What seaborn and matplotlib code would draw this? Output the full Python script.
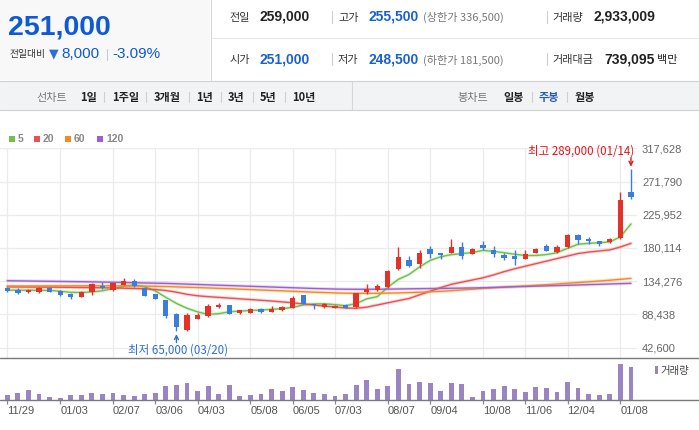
import numpy as np
import pandas as pd
import matplotlib
matplotlib.use('Agg')
import matplotlib.pyplot as plt
import seaborn as sns
from matplotlib.lines import Line2D
from matplotlib.patches import Rectangle

# 주봉 데이터 (2019/11/29 ~ 2021/01/14)
opens = [125000, 122500, 119500, 119500, 125500, 121000, 117000, 113000, 119500, 128000,
         122000, 129000, 134500, 125000, 116500, 108500, 89000, 67000, 82500, 86500,
         99000, 101500, 90500, 91000, 96000, 92000, 94500, 97500, 115000, 103500,
         99000, 98000, 101500, 98500, 119500, 122500, 126000, 151000, 163500, 157500,
         178500, 173000, 173500, 181500, 172000, 184000, 178000, 170000, 169000, 165500,
         173500, 183500, 175000, 182000, 197500, 192500, 190000, 189000, 194500, 258000]
highs = [126000, 124500, 123500, 126000, 126000, 122000, 118500, 120500, 131500, 133000,
         132500, 138500, 137000, 126500, 117000, 108500, 90000, 90000, 90000, 103500,
         104000, 102000, 94500, 97000, 97500, 100000, 99500, 114000, 115500, 103500,
         104000, 101000, 103500, 118500, 130500, 131000, 149500, 181000, 169000, 177000,
         182500, 173500, 192000, 189000, 179500, 189500, 183500, 173000, 177500, 177500,
         179500, 185000, 184500, 199000, 199500, 195000, 190000, 193500, 257500, 289000]
lows = [119500, 117000, 118000, 118500, 119500, 114500, 110000, 112500, 115500, 124000,
        121000, 128500, 126500, 113500, 109500, 84000, 65000, 66000, 82000, 85500,
        97500, 89000, 89500, 90500, 91000, 91500, 93000, 97500, 103500, 96500,
        97500, 97500, 97000, 97500, 116000, 120500, 124500, 150000, 153500, 153000,
        166500, 165000, 173000, 165000, 171500, 177000, 167500, 163000, 156500, 165000,
        173000, 175500, 173500, 180500, 185500, 185500, 183500, 187500, 192500, 247500]
closes = [120500, 118500, 122000, 125500, 120000, 115500, 113000, 119500, 131000, 125500,
          131500, 134500, 127500, 114000, 109500, 86500, 71500, 87500, 87500, 100000,
          102000, 89500, 94000, 96000, 92000, 96000, 98500, 111000, 103500, 101000,
          102500, 100500, 98000, 118000, 124000, 127500, 148500, 167500, 155500, 173000,
          171500, 170500, 181500, 169500, 178500, 180000, 171500, 166000, 164500, 172000,
          178500, 176500, 182000, 197500, 190500, 189500, 185500, 192500, 246500, 251000]
# 거래량 (천주)
volumes = [4500, 6300, 9000, 5400, 2700, 1800, 4500, 4500, 6300, 5400,
           6300, 4500, 3600, 5400, 6300, 12600, 13500, 15300, 8100, 12600,
           5400, 13500, 3600, 4500, 5400, 9900, 8100, 11700, 9000, 6300,
           5400, 3600, 5400, 13500, 18000, 9900, 12600, 27900, 14400, 16200,
           15300, 8100, 15300, 14400, 2700, 8100, 9900, 12600, 9900, 7200,
           11700, 10800, 7200, 16200, 10800, 5400, 4500, 5400, 32400, 29700]
# 이동평균선
ma5 = [122000, 122000, 121800, 121800, 121600, 120500, 119000, 118800, 119500, 121100,
       124000, 127500, 129000, 126600, 121000, 112000, 103700, 97000, 92000, 88600,
       89500, 92200, 93000, 94000, 94500, 95500, 96500, 98200, 101500, 103000,
       103200, 102000, 100500, 103500, 110000, 113000, 126000, 137000, 143500, 154000,
       163000, 168000, 171000, 172300, 174000, 176800, 175500, 173600, 171500, 169800,
       169800, 171000, 173600, 179700, 185300, 186500, 187500, 188500, 195500, 213300]
ma20 = [126500, 126400, 126300, 126200, 126100, 126000, 125800, 125600, 125400, 125200,
        125000, 124700, 124300, 123700, 122800, 121500, 119200, 116200, 114200, 113000,
        112000, 111000, 110000, 109000, 108000, 107000, 105800, 104500, 103000, 101500,
        100000, 98700, 97300, 97000, 98500, 101500, 104500, 107500, 110500, 115500,
        120500, 125500, 130000, 133000, 136000, 139000, 143000, 147500, 151500, 155000,
        158500, 162000, 165500, 169000, 172500, 174500, 176000, 177500, 181500, 186500]
ma60 = [127600, 127650, 127700, 127750, 127800, 127850, 127900, 127950, 128000, 128000,
        128000, 127900, 127700, 127500, 127300, 127000, 126500, 126000, 125500, 125000,
        124500, 124000, 123400, 122800, 122200, 121600, 121000, 120400, 119800, 119200,
        118700, 118200, 117800, 117600, 117600, 117700, 117900, 118200, 118600, 119100,
        119700, 120400, 121200, 122200, 123300, 124400, 125300, 126100, 126900, 127700,
        128600, 129500, 130500, 131500, 132500, 133500, 134600, 135700, 136900, 138200]
ma120 = [135000, 134800, 134600, 134400, 134200, 134000, 133800, 133600, 133400, 133100,
         132800, 132500, 132200, 131900, 131600, 131300, 130800, 130300, 129800, 129300,
         128800, 128300, 127800, 127300, 126800, 126300, 125800, 125300, 124800, 124300,
         123900, 123500, 123300, 123200, 123200, 123300, 123400, 123600, 123800, 124000,
         124200, 124400, 124600, 124800, 125000, 125300, 125700, 126200, 126700, 127100,
         127500, 127900, 128300, 128700, 129100, 129600, 130000, 130500, 130900, 131400]

tick_idx = [0, 5, 10, 14, 18, 23, 27, 31, 36, 40, 45, 49, 53, 58]
tick_labels = ['11/29', '01/03', '02/07', '03/06', '04/03', '05/08', '06/05',
               '07/03', '08/07', '09/04', '10/08', '11/06', '12/04', '01/08']
price_ticks = [42600, 88438, 134276, 180114, 225952, 271790, 317628]

RED = '#e4322b'
BLUE = '#3a7ddc'
VOL = '#9a84c4'
ma_colors = {'5': '#6cc24a', '20': '#ec5050', '60': '#f58a1f', '120': '#9d5fcf'}

W, H = 699, 430
def fx(px):
    return px / W
def fy(py):
    return 1 - py / H

sns.set_theme(style='white')
KR = ['Noto Sans CJK KR', 'DejaVu Sans']
NUM = ['Liberation Sans', 'DejaVu Sans']
plt.rcParams['font.family'] = KR

fig = plt.figure(figsize=(W / 100, H / 100), dpi=100)

def txt(x, y, s, size=8, color='#222', weight='normal', family=KR, ha='left'):
    # CJK 글꼴은 중심이 조금 위로 잡혀서 살짝 내림
    if family is KR:
        y += 1
    fig.text(fx(x), fy(y), s, fontsize=size, color=color, fontweight=weight,
             family=family, ha=ha, va='center')

def hline(x0, x1, y, color, lw=0.8):
    fig.add_artist(Line2D([fx(x0), fx(x1)], [fy(y), fy(y)], color=color, lw=lw))

def vline(x, y0, y1, color, lw=0.8):
    fig.add_artist(Line2D([fx(x), fx(x)], [fy(y0), fy(y1)], color=color, lw=lw))

# ---- 상단 시세 영역
fig.add_artist(Rectangle((0, fy(80)), fx(210), 80 / H, transform=fig.transFigure,
                         facecolor='#f8f8f9', edgecolor='none', zorder=0))
vline(210.5, 0, 80, '#d6d6d6')
hline(211, W, 37.5, '#e6e6e6')
hline(0, W, 80.5, '#d0d0d0')

txt(8, 27.5, '251,000', size=20.5, color='#0d5ad4', weight='bold', family=NUM)
txt(9, 53.5, '전일대비', size=7, color='#333')
txt(49, 54, '▼', size=9, color='#2f6fd0', family=['DejaVu Sans'])
txt(61, 54.5, '8,000', size=11, color='#0d5ad4', family=NUM)
vline(107, 49, 60, '#cccccc')
txt(112, 54.5, '-3.09%', size=11, color='#0d5ad4', family=NUM)

rows = [
    (16.5, [('전일', '259,000', '#222', None), ('고가', '255,500', '#1960d3', '(상한가 336,500)'),
            ('거래량', '2,933,009', '#222', None)]),
    (59, [('시가', '251,000', '#1960d3', None), ('저가', '248,500', '#1960d3', '(하한가 181,500)'),
          ('거래대금', '739,095', '#222', '백만')]),
]
label_x = [229, 338, 552]
value_x = [[259, 368, 593], [259, 368, 604]]
for r, (yy, items) in enumerate(rows):
    for k, (lab, val, col, extra) in enumerate(items):
        txt(label_x[k], yy, lab, size=8, color='#333')
        txt(value_x[r][k], yy, val, size=10, color=col, weight='bold', family=NUM)
        if extra == '백만':
            txt(657, yy, extra, size=8, color='#222')
        elif extra:
            txt(423, yy, extra, size=8, color='#777')
    vline(332, yy - 6, yy + 6, '#d0d0d0')
    vline(547, yy - 6, yy + 6, '#d0d0d0')

# ---- 기간 선택 바
fig.add_artist(Rectangle((0, fy(110)), 1, 29.5 / H, transform=fig.transFigure,
                         facecolor='#f2f3f5', edgecolor='none', zorder=0))
hline(0, W, 110, '#d0d0d0')
vline(352, 81, 110, '#d6d6d6')
txt(36, 96.5, '선차트', size=8, color='#777')
for s, x in zip(['1일', '1주일', '3개월', '1년', '3년', '5년', '10년'],
                [80, 112, 154, 196, 228, 260, 292]):
    txt(x, 96.5, s, size=8, color='#222', weight='bold')
for x in [104, 146, 189, 221, 253, 285, 532, 567]:
    vline(x, 92, 102, '#cfcfcf')
txt(457, 96.5, '봉차트', size=8, color='#777')
txt(503, 96.5, '일봉', size=8, color='#222', weight='bold')
txt(539, 96.5, '주봉', size=8, color='#2a5db8', weight='bold')
txt(575, 96.5, '월봉', size=8, color='#222', weight='bold')

# ---- 이동평균 범례
for lab, x in zip(['5', '20', '60', '120'], [9, 34, 65, 97]):
    fig.add_artist(Rectangle((fx(x), fy(141.5)), fx(6), 6 / H, transform=fig.transFigure,
                             facecolor=ma_colors[lab], edgecolor='none'))
    txt(x + 9, 138.5, lab, size=7.5, color='#888', weight='bold', family=NUM)

# ---- 가격 차트
idx = np.arange(len(closes))
o = np.array(opens); c = np.array(closes)
hi = np.array(highs); lo = np.array(lows)

ax = fig.add_axes([0, fy(357.7), fx(637), (357.7 - 148.3) / H])
ax.set_xlim(-0.69, 59.57)
ax.set_ylim(28806, 317628)

ma_long = pd.DataFrame({'week': idx, '5': ma5, '20': ma20, '60': ma60, '120': ma120}).melt(
    id_vars='week', var_name='line', value_name='price')
sns.lineplot(data=ma_long, x='week', y='price', hue='line', palette=ma_colors,
             lw=2.4, alpha=0.22, legend=False, ax=ax, zorder=2)
sns.lineplot(data=ma_long, x='week', y='price', hue='line', palette=ma_colors,
             lw=1.0, legend=False, ax=ax, zorder=2)

colors = np.where(c >= o, RED, BLUE)
ax.vlines(idx, lo, hi, colors=colors, lw=1, zorder=3)
ax.bar(idx, np.maximum(np.abs(c - o), 900), bottom=np.minimum(o, c), width=0.5,
       color=colors, linewidth=0, zorder=4)

ax.set_xticks(tick_idx)
ax.set_xticklabels([])
ax.set_yticks(price_ticks)
ax.set_yticklabels([f'{v:,}' for v in price_ticks], family=NUM)
ax.yaxis.tick_right()
ax.tick_params(axis='y', length=0, pad=3.6, labelsize=8, labelcolor='#666', right=True)
ax.tick_params(axis='x', length=0, bottom=False)
ax.grid(True, color='#ebebeb', lw=0.9)
ax.set_xlabel(''); ax.set_ylabel('')
for sp in ax.spines.values():
    sp.set_visible(False)

hmax = int(np.argmax(hi)); lmin = int(np.argmin(lo))
ax.annotate(f'최고 {hi[hmax]:,} ({"01/14"})', xy=(hmax, hi[hmax]), xytext=(2.4, 13),
            textcoords='offset points', ha='right', va='center', fontsize=8.3,
            color='#e8141b', annotation_clip=False)
ax.annotate('', xy=(hmax, hi[hmax]), xytext=(0, 8.2), textcoords='offset points',
            arrowprops=dict(arrowstyle='->', color='#e8141b', lw=1, shrinkA=0, shrinkB=1.7,
                            mutation_scale=7))
ax.annotate(f'최저 {lo[lmin]:,} ({"03/20"})', xy=(lmin, lo[lmin]), xytext=(0.8, -13.2),
            textcoords='offset points', ha='center', va='center', fontsize=8.3,
            color='#2f6fd0', annotation_clip=False)
ax.annotate('', xy=(lmin, lo[lmin]), xytext=(0, -8), textcoords='offset points',
            arrowprops=dict(arrowstyle='->', color='#2f6fd0', lw=1, shrinkA=0, shrinkB=1.9,
                            mutation_scale=7))

# ---- 거래량
axv = fig.add_axes([0, fy(400), fx(637), 42 / H])
sns.barplot(x=idx, y=volumes, color=VOL, saturation=1, width=0.45, linewidth=0, ax=axv)
axv.set_xlim(-0.69, 59.57)
axv.set_ylim(0, 37800)
axv.set_xticks(tick_idx)
axv.set_xticklabels(tick_labels, family=NUM)
for lab in axv.get_xticklabels():
    lab.set_ha('left')
axv.tick_params(axis='x', bottom=True, length=3, width=0.9, color='#888', pad=1.5,
                labelsize=8, labelcolor='#555')
axv.tick_params(axis='y', left=False, labelleft=False)
axv.set_xlabel(''); axv.set_ylabel('')
for sp in axv.spines.values():
    sp.set_visible(False)

hline(0, W, 357.7, '#7a7a7a', lw=1.0)
hline(0, W, 400, '#7a7a7a', lw=1.0)

fig.add_artist(Rectangle((fx(655), fy(374)), fx(3), 8 / H, transform=fig.transFigure,
                         facecolor=VOL, edgecolor='none'))
txt(660, 370, '거래량', size=7.5, color='#444')

fig.savefig('out.png', dpi=100)
